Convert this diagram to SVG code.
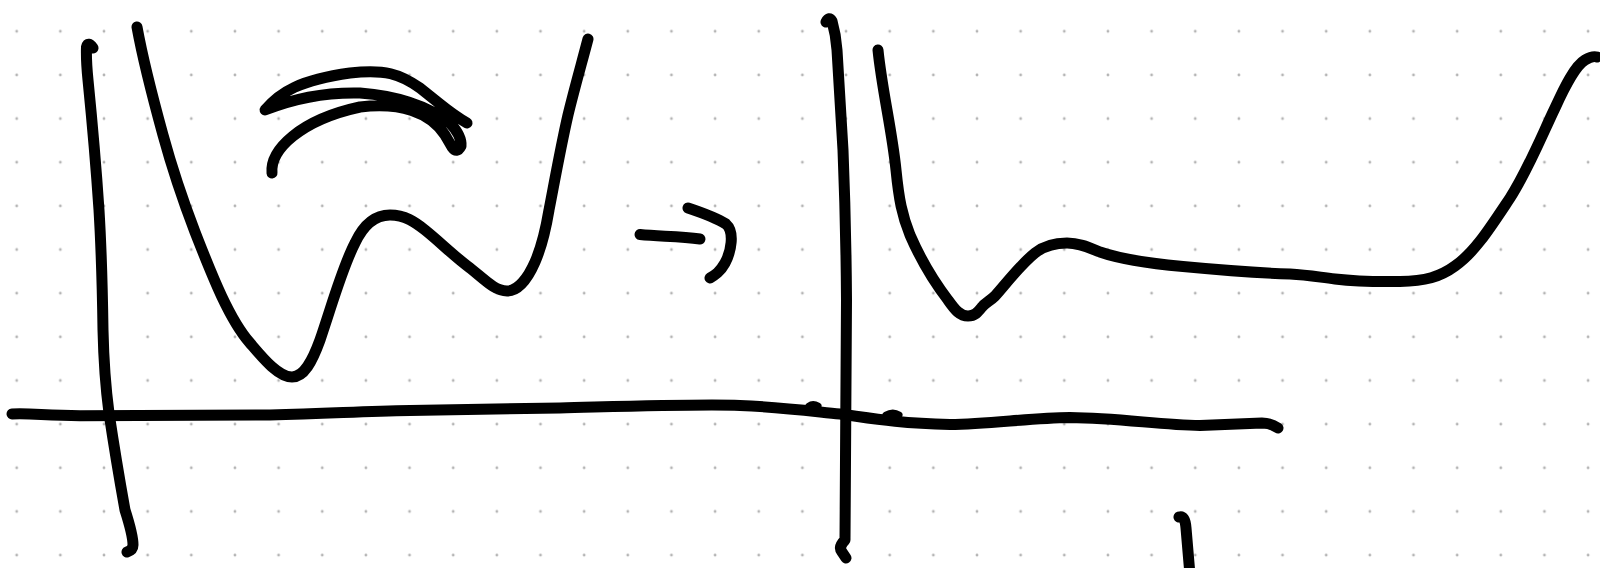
<svg xmlns="http://www.w3.org/2000/svg" width="1600" height="568" viewBox="0 0 1600 568">
<style>
.ink{fill:none;stroke:#000;stroke-width:11;stroke-linecap:round;stroke-linejoin:round}
.thin{fill:none;stroke:#000;stroke-width:7;stroke-linecap:round;stroke-linejoin:round}
</style>
<defs>
<pattern id="dots" x="-5.125" y="9.475" width="43.65" height="43.65" patternUnits="userSpaceOnUse">
<circle cx="21.825" cy="21.825" r="1.4" fill="#b4b4b4"/>
</pattern>
</defs>
<rect width="1600" height="568" fill="#fff"/>
<rect width="1600" height="568" fill="url(#dots)"/>
<g id="left-axes">
<path class="ink" d="M93,48 Q88,41 86.5,47 Q86,60 88,80 Q95,150 99,210 Q102,260 103,330 Q104,375 109,413 Q116,460 125,510 Q133,535 133,545 Q133,550 127,552"/>
</g>
<g id="left-curve">
<path class="ink" d="M137,27 C143,60 152,95 163,135 C172,168 182,198 195,232 C210,270 228,318 250,343 C262,357 278,377 292,377 C304,377 312,362 320,340 C332,305 342,268 355,243 C362,228 372,215 390,215 C405,215 415,222 425,230 C440,242 455,257 470,268 C485,280 495,291 507,291 C518,291 528,278 535,262 C542,246 546,228 549,210 C553,190 560,150 568,115 C574,90 582,62 588,39"/>
</g>
<g id="scribble">
<path class="ink" d="M272,173 C270,150 300,120 360,107 C400,102 430,112 445,135 L452,147 Q457,154 461,146 Q462,136 450,123 C430,108 400,96 360,93 C320,92 290,100 265,110 C280,92 300,80 350,73 C385,69 400,74 420,88 L440,104 Q455,116 467,123"/>
</g>
<g id="arrow">
<path class="ink" d="M640,234.5 C660,236.5 680,236 700,239"/>
<path class="ink" d="M688,208 C700,212 715,217 726,224 C735,232 731,252 725,263 C720,272 715,275 710,278"/>
</g>
<g id="right-axis">
<path class="ink" d="M826,22 Q829,16 832,21 Q836,35 837,50 Q840,100 843,150 Q846,225 846.5,300 Q846,420 845,540 Q838,547 842,552 L846,558"/>
</g>
<g id="right-curve">
<path class="ink" d="M878,50 C882,90 892,130 896,170 C899,200 902,215 910,235 C920,258 935,283 948,300 C955,310 960,316 968,316 C975,316 978,312 982,307 C985,303 990,301 995,296 C1005,285 1020,265 1035,253 C1045,245 1055,243 1067,243 C1080,243 1090,248 1100,252 C1120,259 1145,263 1183,266.5 C1220,270 1260,273 1290,274 C1308,275 1318,277 1335,279 C1352,281 1370,282 1400,281.5 C1425,281 1440,277 1455,266 C1475,252 1490,228 1510,198 C1528,170 1542,135 1555,108 C1565,86 1575,66 1585,60 C1590,57 1594,56 1597,57"/>
</g>
<g id="horizontal-axis">
<path class="ink" d="M12,414 C30,413 45,415.5 80,415.7 L270,415 C330,414 360,411 410,410.5 L560,408 C640,406 700,404 740,405.5 C780,407 810,411 840,414 C870,418 895,423 950,424.5 C990,424 1030,418 1070,417.5 C1120,418 1160,425 1200,425.5 L1262,423 C1270,423 1275,426 1278,428"/>
<path class="thin" d="M809,406 Q813,403 818,406"/>
<path class="thin" d="M886,415 Q893,411 899,415"/>
</g>
<g id="stub">
<path class="ink" d="M1179,517 Q1185,515 1186,528 L1190,575"/>
</g>
</svg>
